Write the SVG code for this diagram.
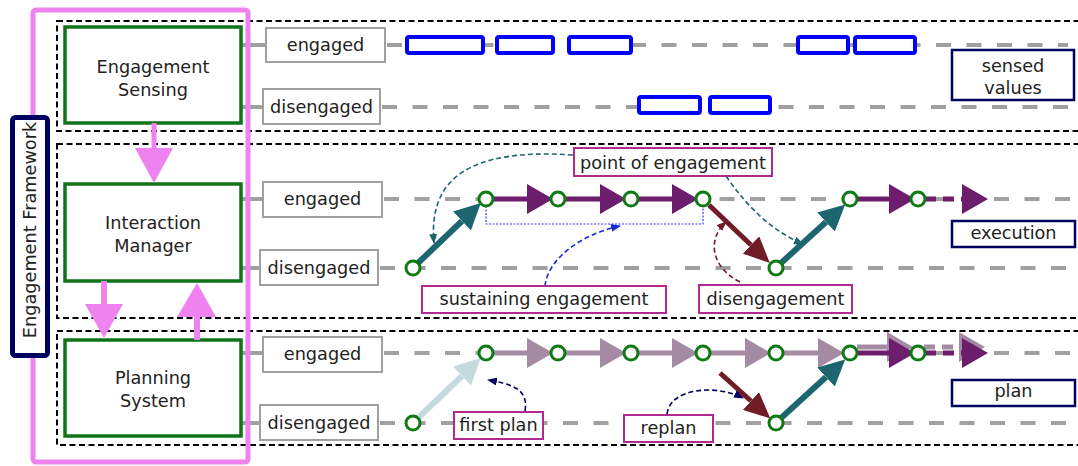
<svg xmlns="http://www.w3.org/2000/svg" width="1078" height="466" viewBox="0 0 1078 466">
<style>
text{font-family:"DejaVu Sans","Liberation Sans",sans-serif;font-size:17.7px;fill:#222;text-anchor:middle}
.sec{fill:none;stroke:#000;stroke-width:2;stroke-dasharray:6 3.5}
.track{stroke:#a0a0a0;stroke-width:4;stroke-dasharray:15 15.5;fill:none}
.stub{stroke:#a0a0a0;stroke-width:4}
.lbl{fill:#fff;stroke:#a0a0a0;stroke-width:2}
.comp{fill:#fff;stroke:#0f7318;stroke-width:3.5}
.sense{fill:#fff;stroke:#0000ff;stroke-width:4}
.note{fill:#fff;stroke:#b02a90;stroke-width:2}
.key{fill:#fff;stroke:#000060;stroke-width:2.5}
.pt{fill:#fff;stroke:#0e7a13;stroke-width:3}
.pink{fill:#ee82ee}
.pk{stroke:#ee82ee;stroke-width:6}
.pur{stroke:#6c1d6b;stroke-width:5;fill:none}
.lpur{stroke:#a48aa3;stroke-width:5;fill:none}
.teal{stroke:#1d6670;stroke-width:6}
.red{stroke:#701c26;stroke-width:5}
.lb{stroke:#c4dadc;stroke-width:6}
.cv{fill:none;stroke-width:1.6;stroke-dasharray:5 3}
</style>
<defs>
<marker id="mPur" viewBox="0 0 26 30" refX="0" refY="15" markerWidth="26" markerHeight="30" markerUnits="userSpaceOnUse" orient="auto"><path d="M0,0 L26,15 L0,30 z" fill="#6c1d6b"/></marker>
<marker id="mLPur" viewBox="0 0 26 30" refX="0" refY="15" markerWidth="26" markerHeight="30" markerUnits="userSpaceOnUse" orient="auto"><path d="M0,0 L26,15 L0,30 z" fill="#a48aa3"/></marker>
<marker id="mTeal" viewBox="0 0 26 26" refX="0" refY="13" markerWidth="26" markerHeight="26" markerUnits="userSpaceOnUse" orient="auto"><path d="M0,0 L26,13 L0,26 z" fill="#1d6670"/></marker>
<marker id="mRed" viewBox="0 0 26 24" refX="0" refY="12" markerWidth="26" markerHeight="24" markerUnits="userSpaceOnUse" orient="auto"><path d="M0,0 L26,12 L0,24 z" fill="#701c26"/></marker>
<marker id="mLB" viewBox="0 0 26 26" refX="0" refY="13" markerWidth="26" markerHeight="26" markerUnits="userSpaceOnUse" orient="auto"><path d="M0,0 L26,13 L0,26 z" fill="#c4dadc"/></marker>
<marker id="sTeal" viewBox="0 0 10 8" refX="9" refY="4" markerWidth="10" markerHeight="8" markerUnits="userSpaceOnUse" orient="auto"><path d="M0,0 L10,4 L0,8 z" fill="#1d6670"/></marker>
<marker id="sBlue" viewBox="0 0 10 8" refX="9" refY="4" markerWidth="10" markerHeight="8" markerUnits="userSpaceOnUse" orient="auto"><path d="M0,0 L10,4 L0,8 z" fill="#1a2ad0"/></marker>
<marker id="sRed" viewBox="0 0 10 8" refX="9" refY="4" markerWidth="10" markerHeight="8" markerUnits="userSpaceOnUse" orient="auto"><path d="M0,0 L10,4 L0,8 z" fill="#701c26"/></marker>
<marker id="sNavy" viewBox="0 0 10 8" refX="9" refY="4" markerWidth="10" markerHeight="8" markerUnits="userSpaceOnUse" orient="auto"><path d="M0,0 L10,4 L0,8 z" fill="#000060"/></marker>
</defs>
<rect width="1078" height="466" fill="#fff"/>

<g id="sections">
<rect class="sec" x="57" y="21" width="1040" height="110"/>
<rect class="sec" x="57" y="144" width="1040" height="174"/>
<rect class="sec" x="57" y="331" width="1040" height="114"/>
</g>

<g id="tracks">
<line class="stub" x1="241" y1="45" x2="265" y2="45"/>
<line class="stub" x1="241" y1="107" x2="262" y2="107"/>
<line class="stub" x1="241" y1="199" x2="262" y2="199"/>
<line class="stub" x1="241" y1="268" x2="259" y2="268"/>
<line class="stub" x1="241" y1="353" x2="262" y2="353"/>
<line class="stub" x1="241" y1="423" x2="259" y2="423"/>
<line class="track" x1="387" y1="45" x2="1068" y2="45"/>
<line class="track" x1="382" y1="107" x2="1068" y2="107"/>
<line class="track" x1="384" y1="199" x2="1078" y2="199"/>
<line class="track" x1="380" y1="268" x2="1078" y2="268"/>
<line class="track" x1="384" y1="353" x2="1078" y2="353"/>
<line class="track" x1="380" y1="423" x2="1078" y2="423"/>
</g>

<g id="framework">
<rect x="33" y="10" width="215" height="452" rx="3" fill="none" stroke="#ee82ee" stroke-width="5"/>
<rect x="12.5" y="117.5" width="35" height="238" rx="3" fill="#fff" stroke="#000060" stroke-width="5"/>
<text transform="translate(36,230) rotate(-90)">Engagement Framework</text>
</g>

<g id="engagement-sensing">
<rect class="comp" x="65" y="27" width="176" height="96"/>
<text x="153" y="73">Engagement</text>
<text x="153" y="96">Sensing</text>
</g>
<g id="interaction-manager">
<rect class="comp" x="65" y="184" width="176" height="97"/>
<text x="153" y="229">Interaction</text>
<text x="153" y="252">Manager</text>
</g>
<g id="planning-system">
<rect class="comp" x="65" y="340" width="176" height="96"/>
<text x="153" y="384">Planning</text>
<text x="153" y="407">System</text>
</g>

<g id="labels">
<rect class="lbl" x="266" y="28" width="119" height="34"/><text x="325.5" y="51">engaged</text>
<rect class="lbl" x="263" y="89" width="117" height="35"/><text x="321.5" y="113">disengaged</text>
<rect class="lbl" x="263" y="182" width="119" height="35"/><text x="322.5" y="205">engaged</text>
<rect class="lbl" x="260" y="250" width="118" height="35"/><text x="319" y="274">disengaged</text>
<rect class="lbl" x="263" y="337" width="119" height="35"/><text x="322.5" y="360">engaged</text>
<rect class="lbl" x="260" y="405" width="118" height="35"/><text x="319" y="429">disengaged</text>
</g>

<g id="sensed">
<rect class="sense" x="407" y="37" width="76" height="16" rx="2"/>
<rect class="sense" x="497" y="37" width="56" height="16" rx="2"/>
<rect class="sense" x="569" y="37" width="62" height="16" rx="2"/>
<rect class="sense" x="798" y="37" width="50" height="16" rx="2"/>
<rect class="sense" x="855" y="37" width="60" height="16" rx="2"/>
<rect class="sense" x="639" y="97" width="61" height="16" rx="2"/>
<rect class="sense" x="710" y="97" width="60" height="16" rx="2"/>
</g>

<g id="connectors">
<!-- pink framework arrows -->
<line class="pk" x1="154" y1="123" x2="154" y2="150" style="stroke-width:5"/>
<polygon class="pink" points="135,148 173,148 154,183"/>
<line class="pk" x1="104" y1="281" x2="104" y2="306"/>
<polygon class="pink" points="85,304 123,304 104,338"/>
<line class="pk" x1="197" y1="340" x2="197" y2="315"/>
<polygon class="pink" points="177,317 216,317 197,283"/>

<!-- execution row -->
<path d="M486,199 V224 H703 V199" fill="none" stroke="#3535ff" stroke-width="1.2" stroke-dasharray="2 1.5"/>
<line class="teal" x1="417" y1="264" x2="462" y2="221" marker-end="url(#mTeal)"/>
<line class="pur" x1="493" y1="199" x2="527" y2="199" marker-end="url(#mPur)"/>
<line class="pur" x1="565" y1="199" x2="600" y2="199" marker-end="url(#mPur)"/>
<line class="pur" x1="638" y1="199" x2="672" y2="199" marker-end="url(#mPur)"/>
<line class="red" x1="709" y1="205" x2="751" y2="245" marker-end="url(#mRed)"/>
<line class="teal" x1="780" y1="264" x2="826" y2="222" marker-end="url(#mTeal)"/>
<line class="pur" x1="857" y1="199" x2="889" y2="199" marker-end="url(#mPur)"/>
<line class="pur" x1="925" y1="199" x2="962" y2="199" stroke-dasharray="11 7" marker-end="url(#mPur)"/>

<!-- plan row -->
<line class="lb" x1="417" y1="419" x2="462" y2="376" marker-end="url(#mLB)"/>
<line class="lpur" x1="493" y1="353" x2="527" y2="353" marker-end="url(#mLPur)"/>
<line class="lpur" x1="565" y1="353" x2="600" y2="353" marker-end="url(#mLPur)"/>
<line class="lpur" x1="638" y1="353" x2="672" y2="353" marker-end="url(#mLPur)"/>
<line class="lpur" x1="710" y1="353" x2="745" y2="353" marker-end="url(#mLPur)"/>
<line class="lpur" x1="783" y1="353" x2="818" y2="353" marker-end="url(#mLPur)"/>
<line class="red" x1="720" y1="373" x2="751" y2="401" marker-end="url(#mRed)"/>
<line class="teal" x1="780" y1="419" x2="826" y2="377" marker-end="url(#mTeal)"/>
<line class="lpur" x1="857" y1="347" x2="887" y2="347" marker-end="url(#mLPur)"/>
<line class="lpur" x1="924" y1="347" x2="959" y2="347" stroke-dasharray="11 7" marker-end="url(#mLPur)"/>
<line class="pur" x1="857" y1="353" x2="889" y2="353" marker-end="url(#mPur)"/>
<line class="pur" x1="925" y1="353" x2="962" y2="353" stroke-dasharray="11 7" marker-end="url(#mPur)"/>

<!-- annotation curves -->
<path class="cv" stroke="#1d6670" d="M573,155 C470,148 428,178 434,243" marker-end="url(#sTeal)"/>
<path class="cv" stroke="#1d6670" d="M726,176 Q760,226 803,244" marker-end="url(#sTeal)"/>
<path class="cv" stroke="#1a2ad0" d="M545,286 C548,258 582,234 620,226" marker-end="url(#sBlue)"/>
<path class="cv" stroke="#701c26" d="M740,282 C712,268 706,240 726,222" marker-end="url(#sRed)"/>
<path class="cv" stroke="#000060" d="M525,411 C529,388 510,384 488,380" marker-end="url(#sNavy)"/>
<path class="cv" stroke="#000060" d="M667,414 C670,388 716,384 743,398" marker-end="url(#sNavy)"/>
</g>

<g id="points">
<circle class="pt" cx="413" cy="268" r="7"/>
<circle class="pt" cx="486" cy="199" r="7"/>
<circle class="pt" cx="558" cy="199" r="7"/>
<circle class="pt" cx="631" cy="199" r="7"/>
<circle class="pt" cx="703" cy="199" r="7"/>
<circle class="pt" cx="776" cy="268" r="7"/>
<circle class="pt" cx="850" cy="199" r="7"/>
<circle class="pt" cx="918" cy="199" r="7"/>
<circle class="pt" cx="413" cy="423" r="7"/>
<circle class="pt" cx="486" cy="353" r="7"/>
<circle class="pt" cx="558" cy="353" r="7"/>
<circle class="pt" cx="631" cy="353" r="7"/>
<circle class="pt" cx="703" cy="353" r="7"/>
<circle class="pt" cx="776" cy="353" r="7"/>
<circle class="pt" cx="776" cy="423" r="7"/>
<circle class="pt" cx="850" cy="353" r="7"/>
<circle class="pt" cx="918" cy="353" r="7"/>
</g>

<g id="notes">
<rect class="note" x="574" y="148" width="198" height="28"/><text x="673" y="169">point of engagement</text>
<rect class="note" x="422" y="286" width="244" height="27"/><text x="544" y="305">sustaining engagement</text>
<rect class="note" x="699" y="285" width="153" height="28"/><text x="775.5" y="305">disengagement</text>
<rect class="note" x="454" y="412" width="89" height="27"/><text x="498.5" y="431">first plan</text>
<rect class="note" x="624" y="415" width="89" height="27"/><text x="668.5" y="434">replan</text>
</g>

<g id="legend">
<rect class="key" x="952" y="50" width="122" height="50"/><text x="1013" y="72">sensed</text><text x="1013" y="94">values</text>
<rect class="key" x="952" y="221" width="123" height="26"/><text x="1013.5" y="239">execution</text>
<rect class="key" x="952" y="380" width="123" height="26"/><text x="1013.5" y="397">plan</text>
</g>
</svg>
